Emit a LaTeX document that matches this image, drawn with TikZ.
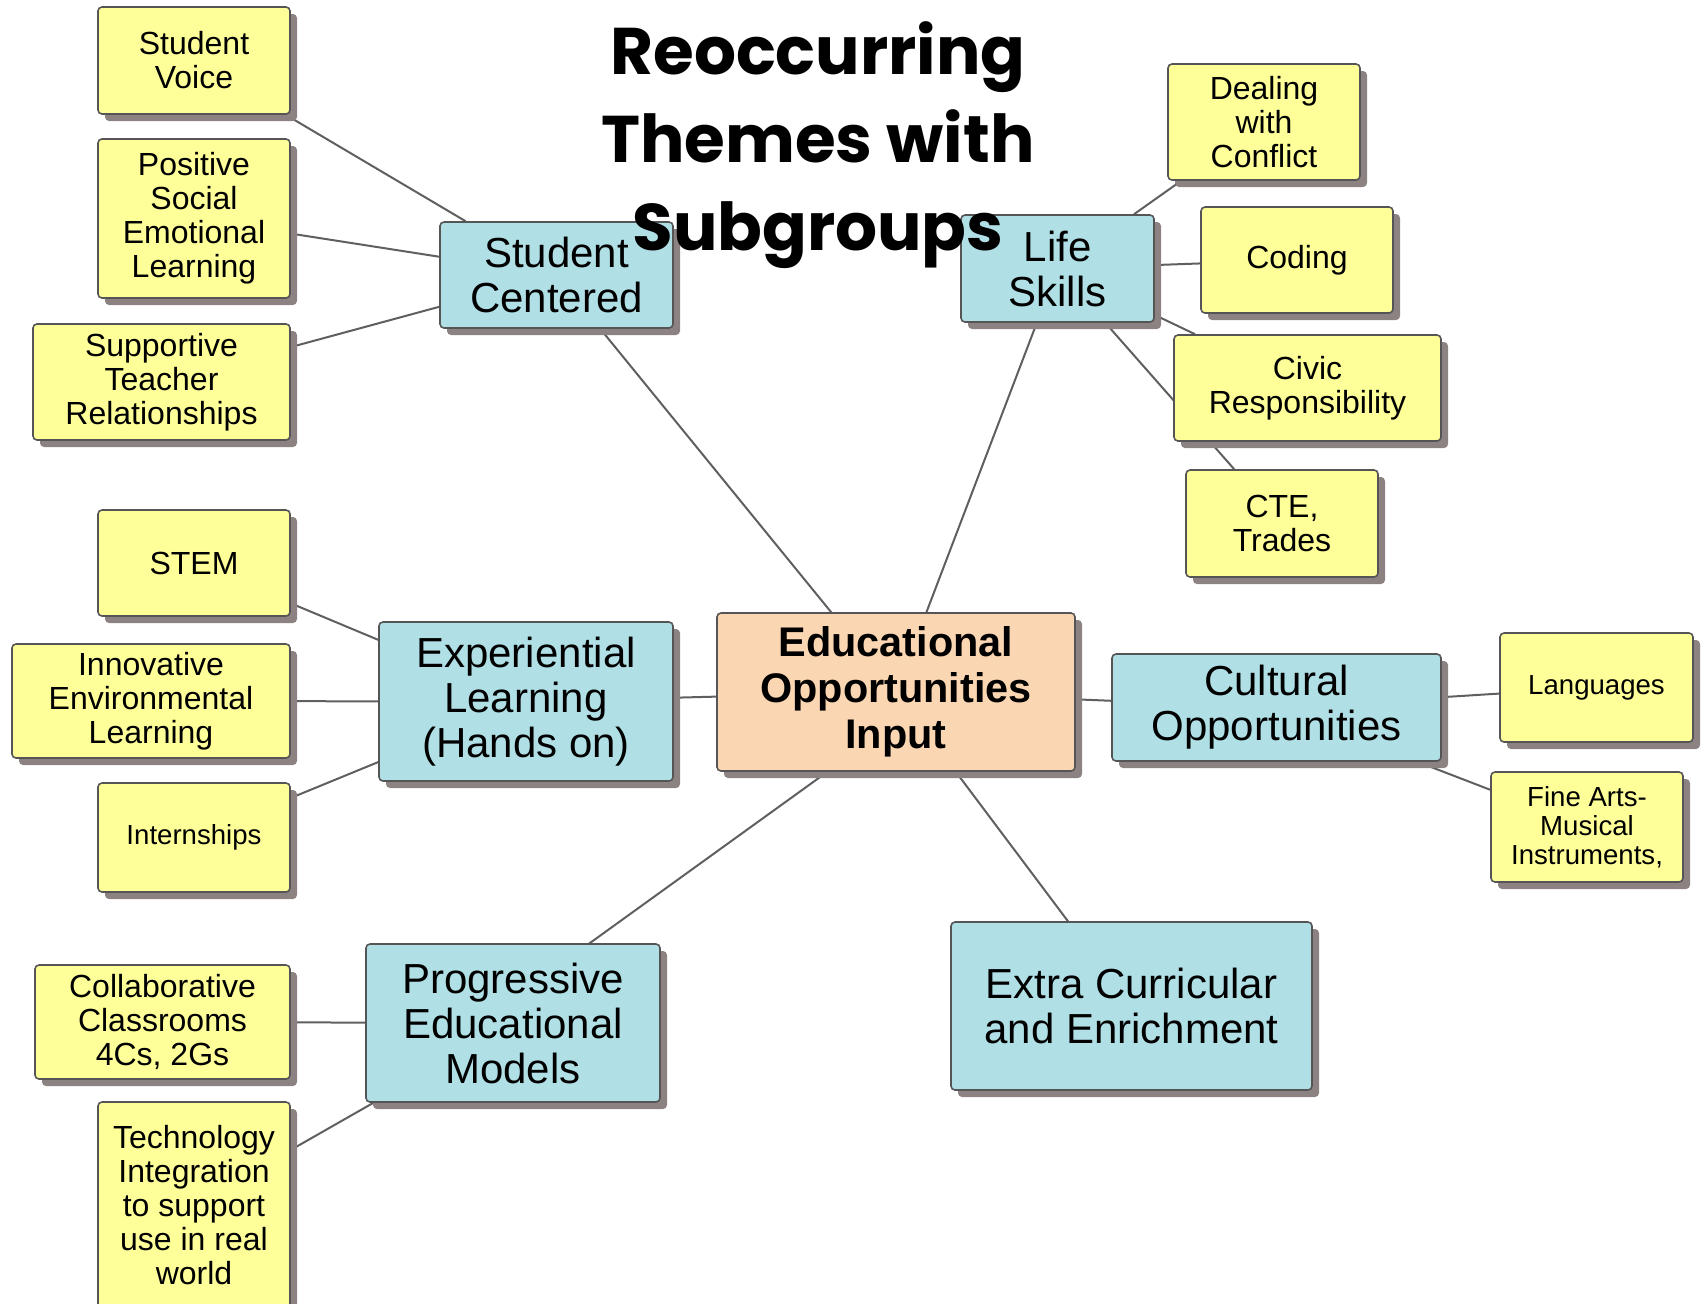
\documentclass[tikz,border=0pt]{standalone}
\usepackage{fontspec}
\setmainfont{Liberation Sans}
\newfontfamily\titlefont{Poppins}
\usetikzlibrary{shadows,backgrounds}

\definecolor{leafyellow}{RGB}{255,255,153}
\definecolor{themeblue}{RGB}{176,224,230}
\definecolor{corepeach}{RGB}{251,214,178}
\definecolor{boxline}{RGB}{85,85,85}
\definecolor{shadowgray}{RGB}{140,130,130}
\definecolor{linkgray}{RGB}{95,95,95}

\begin{document}
\begin{tikzpicture}[x=0.5pt,y=-0.5pt,
  box/.style={draw=boxline, line width=0.8pt, rounded corners=2pt, align=center, inner sep=0pt,
    drop shadow={shadow xshift=3.5pt, shadow yshift=-3.5pt, fill=shadowgray, opacity=1}},
  leaf/.style={box, fill=leafyellow, font=\fontsize{16}{17}\selectfont},
  smallleaf/.style={box, fill=leafyellow, font=\fontsize{13.8}{14.5}\selectfont},
  theme/.style={box, fill=themeblue, font=\fontsize{21}{22.5}\selectfont},
  core/.style={box, fill=corepeach, font=\bfseries\fontsize{20.7}{23}\selectfont},
  link/.style={draw=linkgray, line width=1pt}]
  \useasboundingbox (0,0) rectangle (1708,1303);

  % Main node
  \node[core, minimum width=179pt, minimum height=79pt] (edu) at (896,692) {Educational\\Opportunities\\Input};

  % Themes
  \node[theme, minimum width=116.5pt, minimum height=53pt] (sc) at (556.5,275) {Student\\Centered};
  \node[theme, minimum width=96.5pt, minimum height=53.5pt] (ls) at (1057.5,268.5) {Life\\Skills};
  \node[theme, minimum width=147pt, minimum height=79.5pt] (exp) at (526,701.5) {Experiential\\Learning\\(Hands on)};
  \node[theme, minimum width=164.5pt, minimum height=53.5pt] (cult) at (1276.5,707.5) {Cultural\\Opportunities};
  \node[theme, minimum width=147pt, minimum height=79pt] (prog) at (513,1023) {Progressive\\Educational\\Models};
  \node[theme, minimum width=180.5pt, minimum height=84pt] (extra) at (1131.5,1006) {Extra Curricular\\and Enrichment};

  % Subgroups of Student Centered
  \node[leaf, minimum width=96pt, minimum height=53.5pt] (voice) at (194,60.5) {Student\\Voice};
  \node[leaf, minimum width=96pt, minimum height=79.5pt] (sel) at (194,218.5) {Positive\\Social\\Emotional\\Learning};
  \node[leaf, minimum width=128.5pt, minimum height=58pt] (teacher) at (161.5,382) {Supportive\\Teacher\\Relationships};

  % Subgroups of Experiential Learning
  \node[leaf, minimum width=96pt, minimum height=53pt] (stem) at (194,563) {STEM};
  \node[leaf, minimum width=139pt, minimum height=57pt] (enviro) at (151,701) {Innovative\\Environmental\\Learning};
  \node[smallleaf, minimum width=96pt, minimum height=54.5pt] (intern) at (194,837.5) {Internships};

  % Subgroups of Progressive Educational Models
  \node[leaf, minimum width=127.5pt, minimum height=57pt] (collab) at (162.5,1022) {Collaborative\\Classrooms\\4Cs, 2Gs};
  \node[leaf, minimum width=96pt, minimum height=103pt] (tech) at (194,1205) {Technology\\Integration\\to support\\use in real\\world};

  % Subgroups of Life Skills
  \node[leaf, minimum width=96pt, minimum height=58pt] (conflict) at (1264,122) {Dealing\\with\\Conflict};
  \node[leaf, minimum width=96pt, minimum height=53pt] (coding) at (1297,260) {Coding};
  \node[leaf, minimum width=133.5pt, minimum height=53pt] (civic) at (1307.5,388) {Civic\\Responsibility};
  \node[leaf, minimum width=96pt, minimum height=53.5pt] (cte) at (1282,523.5) {CTE,\\Trades};

  % Subgroups of Cultural Opportunities
  \node[smallleaf, minimum width=96.5pt, minimum height=54.5pt] (lang) at (1596.5,687.5) {Languages};
  \node[smallleaf, minimum width=96pt, minimum height=55pt] (arts) at (1587,827) {Fine Arts-\\Musical\\Instruments,};

  % Links
  \begin{scope}[on background layer]
    \foreach \a/\b in {edu/sc, edu/ls, edu/exp, edu/cult, edu/extra,
                       sc/voice, sc/sel, sc/teacher,
                       exp/stem, exp/enviro, exp/intern,
                       prog/collab, prog/tech,
                       ls/conflict, ls/coding, ls/civic, ls/cte,
                       cult/lang, cult/arts}
      \draw[link] (\a) -- (\b);
    \draw[link] ([xshift=21pt]edu.center) -- ([xshift=-17pt]prog.center);
  \end{scope}

  % Title
  \node[align=center, inner sep=0pt, font=\titlefont\bfseries\fontsize{33}{44}\selectfont] (title) at (818,145)
    {Reoccurring\\Themes with\\Subgroups};
\end{tikzpicture}
\end{document}
